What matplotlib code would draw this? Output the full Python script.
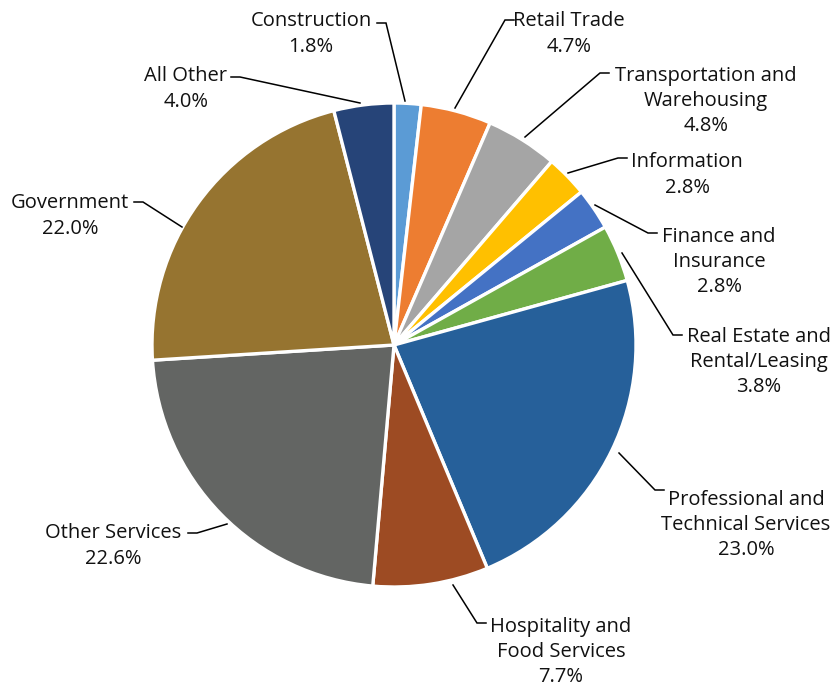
import matplotlib
matplotlib.use('Agg')
from matplotlib import pyplot as plt

# industry shares (%), clockwise from 12 o'clock
sectors = ['Construction', 'Retail Trade', 'Transportation and\nWarehousing', 'Information',
           'Finance and\nInsurance', 'Real Estate and\nRental/Leasing',
           'Professional and\nTechnical Services', 'Hospitality and\nFood Services',
           'Other Services', 'Government', 'All Other']
shares = [1.8, 4.7, 4.8, 2.8, 2.8, 3.8, 23.0, 7.7, 22.6, 22.0, 4.0]
colors = ['#5B9BD5', '#ED7D31', '#A5A5A5', '#FFC000', '#4472C4', '#70AD47',
          '#26609A', '#9D4B23', '#636563', '#967430', '#264478']

W, H = 835, 689

# label layout in pixel coords (top-left origin): text centre, elbow, pie anchor
label_pos = [(311, 34), (569, 34), (706, 101), (687, 175), (719, 262), (759, 362),
             (746, 525), (561, 652), (113, 546), (70, 216), (186, 89)]
elbows = [(386, 23), (505, 20), (600, 73), (618, 158), (648, 233), (673, 335),
          (655, 490), (477, 623), (197, 533), (143, 202), (240, 77)]
anchors = [(405, 101), (455, 108), (525, 137), (568, 173), (595, 205), (622, 253),
           (619, 453), (453, 585), (227, 524), (182, 227), (360, 103)]

plt.rcParams['font.family'] = ['Open Sans', 'DejaVu Sans']

fig = plt.figure(figsize=(W / 100, H / 100), dpi=100)
ax = fig.add_axes([0, 0, 1, 1])

ax.pie(shares, colors=colors, startangle=90, counterclock=False,
       center=(394, H - 345), radius=242,
       wedgeprops=dict(edgecolor='white', linewidth=2.4))

for name, val, (tx, ty), (ex, ey), (axp, ayp) in zip(sectors, shares, label_pos, elbows, anchors):
    ax.text(tx, H - ty, "{}\n{:.1f}%".format(name, val), ha='center', va='center',
            multialignment='center', fontsize=14.5, color='#111111', linespacing=1.36)
    stub = 9 if ex > axp else -9
    ax.plot([ex + stub, ex, axp], [H - ey, H - ey, H - ayp], color='black', lw=1.1,
            solid_joinstyle='miter')

ax.set_xlim(0, W)
ax.set_ylim(0, H)
ax.set_aspect('equal')
ax.axis('off')

fig.savefig('out.png', dpi=100)
